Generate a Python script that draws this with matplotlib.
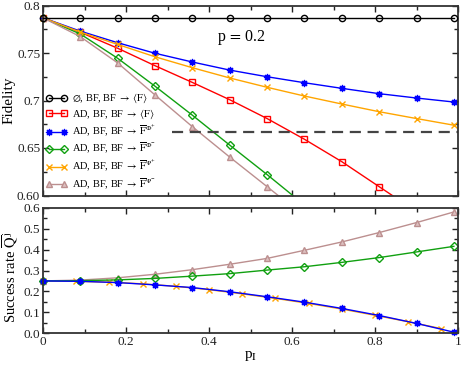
import numpy as np
import matplotlib
matplotlib.use("Agg")
import matplotlib.pyplot as plt
from matplotlib.ticker import FixedLocator, FixedFormatter, MultipleLocator

plt.rcParams['font.family'] = ['Liberation Serif', 'DejaVu Serif']
plt.rcParams['mathtext.fontset'] = 'stix'

# ---------------- data ----------------
x_top = [0.0, 0.09, 0.18, 0.27, 0.36, 0.45, 0.54, 0.63, 0.72, 0.81, 0.90, 0.99]
fid_empty = [0.787] * 12
fid_ad_avg = [0.787, 0.7718, 0.755, 0.7366, 0.7190, 0.7008, 0.6810, 0.6592, 0.6356, 0.6093, 0.583]
fid_phi_p = [0.787, 0.7730, 0.7608, 0.7497, 0.7405, 0.732, 0.725, 0.7187, 0.7128, 0.7072, 0.7026, 0.6984]
fid_phi_m = [0.787, 0.770, 0.7444, 0.7150, 0.6845, 0.6530, 0.6220, 0.590]
fid_psi_p = [0.787, 0.772, 0.759, 0.746, 0.7345, 0.7237, 0.7139, 0.7047, 0.6963, 0.6882, 0.6810, 0.674]
fid_psi_m = [0.787, 0.7672, 0.7395, 0.7058, 0.6724, 0.6404, 0.6093, 0.578]
threshold = 2.0 / 3.0
threshold_x = [0.31, 1.0]

x_q = x_top
q_phi_p = [0.25, 0.248, 0.242, 0.231, 0.218, 0.198, 0.174, 0.148, 0.118, 0.084, 0.046, 0.004]
q_phi_m = [0.25, 0.251, 0.255, 0.262, 0.273, 0.285, 0.302, 0.318, 0.339, 0.362, 0.389, 0.416]
q_psi_m = [0.25, 0.254, 0.265, 0.282, 0.304, 0.330, 0.358, 0.397, 0.437, 0.482, 0.530, 0.581]
x_q_psi_p = [0.0, 0.08, 0.16, 0.24, 0.32, 0.40, 0.48, 0.56, 0.64, 0.72, 0.80, 0.88, 0.96]
q_psi_p = [0.25, 0.248, 0.244, 0.236, 0.224, 0.208, 0.188, 0.166, 0.142, 0.115, 0.085, 0.054, 0.021]

labels = [r'$\emptyset$, BF, BF $\rightarrow\,\langle\mathrm{F}\rangle$',
          r'AD, BF, BF $\rightarrow\,\langle\mathrm{F}\rangle$',
          r'AD, BF, BF $\rightarrow\,\overline{\mathrm{F}}^{\Phi^{+}}$',
          r'AD, BF, BF $\rightarrow\,\overline{\mathrm{F}}^{\Phi^{-}}$',
          r'AD, BF, BF $\rightarrow\,\overline{\mathrm{F}}^{\Psi^{+}}$',
          r'AD, BF, BF $\rightarrow\,\overline{\mathrm{F}}^{\Psi^{-}}$']

c_black = 'black'
c_red = '#ff0000'
c_blue = '#0000ff'
c_green = '#10a010'
c_orange = '#ffa500'
c_brown = '#bc8f8f'

fig = plt.figure(figsize=(4.63, 3.65), dpi=100)
W, H = 463, 365
axL, axR = 43 / W, 458 / W
ax1 = fig.add_axes([axL, 1 - 195.5 / H, axR - axL, (195.5 - 5.5) / H])
ax2 = fig.add_axes([axL, 1 - 333 / H, axR - axL, (333 - 208) / H])

lw = 1.0
ms = 4.5
n = len
ax1.plot(x_top[:n(fid_empty)], fid_empty, color=c_black, lw=lw, marker='o', ms=ms,
         mfc='none', mew=1.0, label=labels[0], clip_on=False, zorder=3)
ax1.plot(x_top[:n(fid_ad_avg)], fid_ad_avg, color=c_red, lw=lw, marker='s', ms=ms,
         mfc='none', mew=1.0, label=labels[1])
ax1.plot(x_top[:n(fid_phi_p)], fid_phi_p, color=c_blue, lw=lw, marker=(8, 1, 0), ms=5,
         mfc=c_blue, mew=0.8, label=labels[2], clip_on=False)
ax1.plot(x_top[:n(fid_phi_m)], fid_phi_m, color=c_green, lw=lw, marker='D', ms=3.8,
         mfc='none', mew=1.0, label=labels[3])
ax1.plot(x_top[:n(fid_psi_p)], fid_psi_p, color=c_orange, lw=lw, marker='x', ms=4,
         mew=1.0, label=labels[4], clip_on=False)
ax1.plot(x_top[:n(fid_psi_m)], fid_psi_m, color=c_brown, lw=lw, marker='^', ms=5,
         mfc='#dcc0c0', mew=1.0, label=labels[5])
ax1.plot(threshold_x, [threshold, threshold], color='#444444', lw=1.6, ls=(0, (5, 3)))

ax1.text(0.42, 0.7625, r'p$\,=\,$0.2', fontsize=11.5)

ax2.plot(x_q_psi_p, q_psi_p, color=c_orange, lw=lw, marker='x', ms=4, mew=1.0, clip_on=False)
ax2.plot(x_q, q_psi_m, color=c_brown, lw=lw, marker='^', ms=5, mfc='#dcc0c0', mew=1.0, clip_on=False)
ax2.plot(x_q, q_phi_m, color=c_green, lw=lw, marker='D', ms=3.8, mfc='none', mew=1.0, clip_on=False)
ax2.plot(x_q, q_phi_p, color=c_blue, lw=lw, marker=(8, 1, 0), ms=5, mfc=c_blue, mew=0.8, clip_on=False)

for ax in (ax1, ax2):
    ax.set_xlim(0, 1)
    ax.xaxis.set_major_locator(MultipleLocator(0.2))
    ax.xaxis.set_minor_locator(MultipleLocator(0.1))
    ax.tick_params(which='both', direction='in', top=True, right=True, labelsize=9.5,
                   colors='#222222', pad=2)
    ax.tick_params(which='major', length=4.5, width=1.0)
    ax.tick_params(which='minor', length=3, width=1.0)
    for s in ax.spines.values():
        s.set_linewidth(1.3)
        s.set_color('#333333')

ax1.set_ylim(0.6, 0.8)
ax1.yaxis.set_major_locator(FixedLocator([0.6, 0.65, 0.7, 0.75, 0.8]))
ax1.yaxis.set_major_formatter(FixedFormatter(['0.60', '0.65', '0.7', '0.75', '0.8']))
ax1.yaxis.set_minor_locator(MultipleLocator(0.025))
ax1.tick_params(labelbottom=False)

ax2.set_ylim(0, 0.6)
ax2.yaxis.set_major_locator(MultipleLocator(0.1))
ax2.yaxis.set_minor_locator(MultipleLocator(0.05))
ax2.xaxis.set_major_formatter(FixedFormatter(['0', '0.2', '0.4', '0.6', '0.8', '1']))
ax2.xaxis.set_major_locator(FixedLocator([0, 0.2, 0.4, 0.6, 0.8, 1.0]))

ax1.set_ylabel('Fidelity', fontsize=11)
ax2.set_ylabel(r'Success rate $\overline{\mathrm{Q}}^{\,\mathrm{j}}$', fontsize=10.5)
ax1.yaxis.set_label_coords(-0.066, 0.5)
ax2.yaxis.set_label_coords(-0.052, 0.45)
ax2.set_xlabel(r'p$_{\mathrm{I}}$', fontsize=11, labelpad=1)

leg = ax1.legend(loc='upper left', bbox_to_anchor=(0.0, 0.56), frameon=False,
                 fontsize=7.5, numpoints=2, handlelength=2.0, handletextpad=0.5,
                 labelspacing=0.24, borderaxespad=0.2, borderpad=0.1)

fig.savefig('out.png', dpi=100)
